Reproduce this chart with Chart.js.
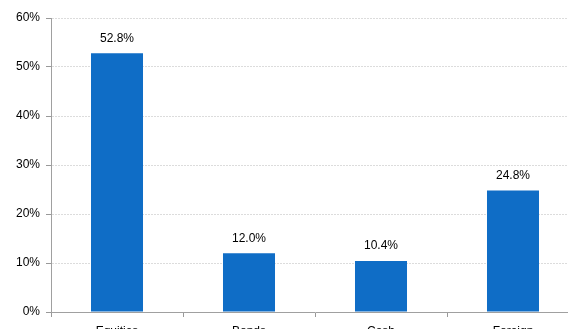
<!DOCTYPE html>
<html><head><meta charset="utf-8">
<script src="https://cdn.jsdelivr.net/npm/chart.js@4/dist/chart.umd.min.js"></script>
<style>html,body{margin:0;padding:0;overflow:hidden;background:#fff;width:568px;height:329px}canvas{display:block}</style>
</head><body>
<canvas id="c" width="600" height="345"></canvas>
<script>
const categories = ["Equities", "Bonds", "Cash", "Foreign"];
const values = [52.8, 12.0, 10.4, 24.8];
const yTicks = [0, 10, 20, 30, 40, 50, 60];

const labelPlugin = {
  id: 'valueLabels',
  afterDatasetsDraw(chart) {
    const ctx = chart.ctx;
    const meta = chart.getDatasetMeta(0);
    ctx.save();
    ctx.font = '12px "Liberation Sans", Arial, sans-serif';
    ctx.fillStyle = '#000';
    ctx.textAlign = 'center';
    ctx.textBaseline = 'bottom';
    meta.data.forEach((bar, i) => {
      ctx.fillText(values[i].toFixed(1) + '%', bar.x, bar.y - 9);
    });
    ctx.restore();
  }
};

new Chart(document.getElementById('c'), {
  type: 'bar',
  data: {
    labels: categories,
    datasets: [{
      data: values,
      backgroundColor: '#0F6DC6',
      borderWidth: 0,
      categoryPercentage: 1.0,
      barPercentage: 0.394
    }]
  },
  options: {
    responsive: false,
    animation: false,
    devicePixelRatio: 1,
    layout: { padding: { top: 18, right: 21, left: 0, bottom: 0 } },
    plugins: { legend: { display: false }, tooltip: { enabled: false } },
    scales: {
      x: {
        afterFit(s) { s.height = 33; },
        grid: { offset: true, drawOnChartArea: false, drawTicks: true, tickLength: 5, color: '#999', tickColor: '#999' },
        border: { color: '#A0A0A0', width: 1 },
        ticks: { color: '#000', padding: 7, font: { family: '"Liberation Sans", Arial, sans-serif', size: 12 } }
      },
      y: {
        min: 0, max: 60,
        afterFit(s) { s.width = 51; },
        afterBuildTicks(s) { s.ticks = yTicks.map(v => ({ value: v })); },
        grid: { color: '#DCDCDC', tickBorderDash: [], tickColor: '#999', tickLength: 5 },
        border: { color: '#A0A0A0', width: 1, dash: [2, 1] },
        ticks: { color: '#000', padding: 6, callback: v => v + '%', font: { family: '"Liberation Sans", Arial, sans-serif', size: 12 } }
      }
    }
  },
  plugins: [labelPlugin]
});
</script>
</body></html>
